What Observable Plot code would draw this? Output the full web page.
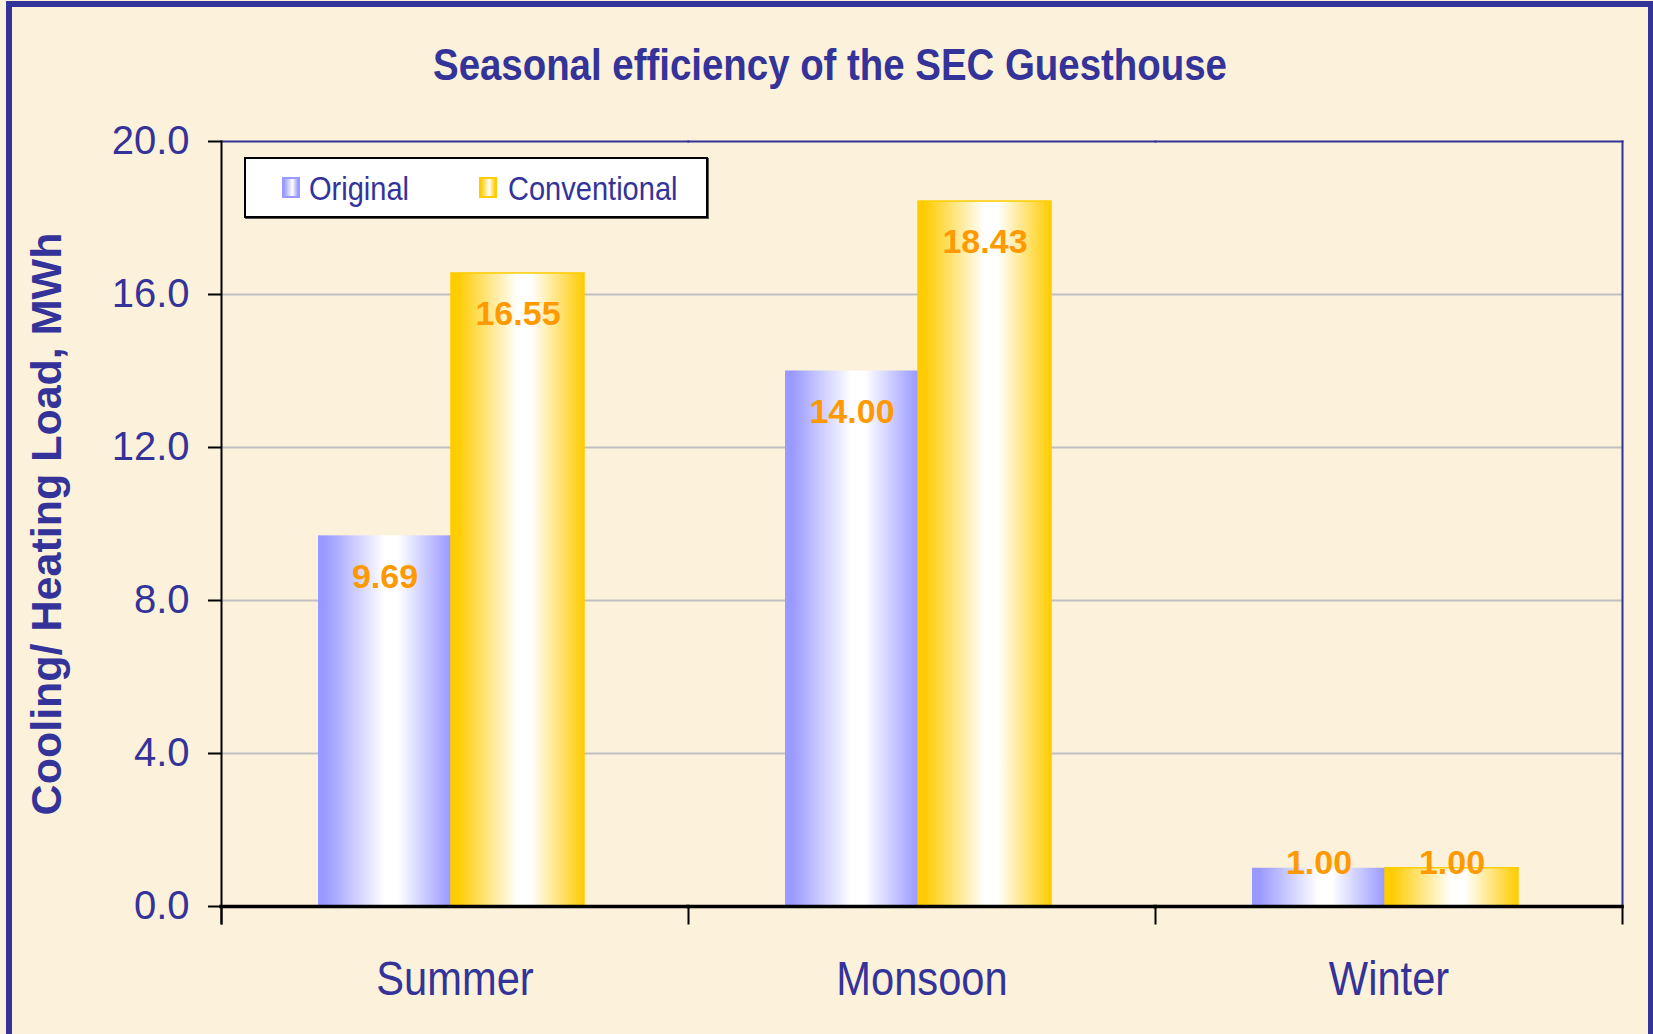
<!DOCTYPE html>
<html>
<head>
<meta charset="utf-8">
<script src="https://cdn.jsdelivr.net/npm/d3@7"></script>
<script src="https://cdn.jsdelivr.net/npm/@observablehq/plot@0.6"></script>
<style>
  html, body { margin: 0; padding: 0; background: #fcf1da; }
  #page { position: relative; width: 1653px; height: 1034px; overflow: hidden; background: #fcf1da;
          font-family: "Liberation Sans", Arial, sans-serif; }
  #frame { position: absolute; left: 6px; top: 1px; right: 0; height: 1100px; box-sizing: border-box;
           border-top: 6px solid #333399; border-left: 6px solid #333399; border-right: 5px solid #333399; }
  #title { position: absolute; left: 3px; top: 43px; width: 1653px; text-align: center; white-space: nowrap;
           font-size: 44.5px; line-height: 44.5px; font-weight: bold; color: #333399; }
  #title span { display: inline-block; transform: scaleX(0.863); }
  #chart { position: absolute; left: 0; top: 100px; }
  #legend { position: absolute; left: 244px; top: 157px; width: 464px; height: 61px; box-sizing: border-box;
            background: #fff; border: 2px solid #000; box-shadow: 1px 1px 0 #555; z-index: 5; }
  #legend .sw { position: absolute; top: 18px; width: 18px; height: 21px; box-sizing: border-box; }
  #legend .lt { position: absolute; top: 13px; font-size: 33px; line-height: 33px; color: #333399;
                white-space: nowrap; transform: scaleX(0.88); transform-origin: left center; }
</style>
</head>
<body>
<div id="page">
  <div id="frame"></div>
  <div id="title"><span></span></div>
  <div id="chart"></div>
  <div id="legend">
    <div class="sw" id="sw1" style="left:36px;border:2px solid #9999ff;background:linear-gradient(to right,#9999ff 0%,#ffffff 60%,#9999ff 100%);"></div>
    <div class="lt" id="lt1" style="left:63px;"></div>
    <div class="sw" id="sw2" style="left:233px;border:2px solid #ffcc00;background:linear-gradient(to right,#ffcc00 0%,#ffffff 60%,#ffcc00 100%);"></div>
    <div class="lt" id="lt2" style="left:262px;"></div>
  </div>
</div>
<script>
// ---- data ----
const titleText = "Seasonal efficiency of the SEC Guesthouse";
const yLabel = "Cooling/ Heating Load, MWh";
const seasons = ["Summer", "Monsoon", "Winter"];
const seriesNames = ["Original", "Conventional"];
const originalLoad = [9.69, 14.00, 1.00];
const conventionalLoad = [16.55, 18.43, 1.00];
const yTicks = [0, 4, 8, 12, 16, 20];
const gridTicks = [4, 8, 12, 16];

const data = seasons.flatMap((s, i) => [
  {season: s, series: seriesNames[0], value: originalLoad[i]},
  {season: s, series: seriesNames[1], value: conventionalLoad[i]}
]);

document.querySelector("#title span").textContent = titleText;
document.getElementById("lt1").textContent = seriesNames[0];
document.getElementById("lt2").textContent = seriesNames[1];

const blue = "#333399";
const fmt2 = d3.format(".2f");

const chart = Plot.plot({
  width: 1653,
  height: 934,
  marginLeft: 220,
  marginRight: 30,
  marginTop: 41,
  marginBottom: 128,
  style: {background: "transparent", fontFamily: "'Liberation Sans', Arial, sans-serif", overflow: "visible"},
  fx: {domain: seasons, padding: 0, label: null},
  x: {domain: seriesNames, paddingInner: 0, paddingOuter: 0.75, align: 0.483, axis: null},
  y: {domain: [0, 20]},
  marks: [
    Plot.ruleY(gridTicks, {stroke: "#c0c0c0", strokeWidth: 2}),
    Plot.barY(data, {filter: d => d.series === seriesNames[0], fx: "season", x: "series", y: "value",
      fill: "url(#gradOriginal)"}),
    Plot.barY(data, {filter: d => d.series === seriesNames[1], fx: "season", x: "series", y: "value",
      fill: "url(#gradConventional)", stroke: "#ffcc00", strokeWidth: 1.5}),
    Plot.frame({anchor: "top", stroke: blue, strokeWidth: 2, strokeLinecap: "square"}),
    Plot.frame({anchor: "right", facetAnchor: "right", stroke: blue, strokeWidth: 2}),
    Plot.frame({anchor: "left", facetAnchor: "left", stroke: "black", strokeWidth: 2, insetBottom: -17}),
    Plot.frame({anchor: "left", stroke: "black", strokeWidth: 2, insetTop: 765, insetBottom: -17}),
    Plot.frame({anchor: "right", facetAnchor: "right", stroke: "black", strokeWidth: 2, insetTop: 765, insetBottom: -17}),
    Plot.ruleY([0], {stroke: "black", strokeWidth: 3.5, strokeLinecap: "square"}),
    Plot.text(data, {filter: d => d.value >= 2, fx: "season", x: "series", y: "value",
      text: d => fmt2(d.value), dy: 41, fill: "#ff9900", fontWeight: "bold", fontSize: 34}),
    Plot.text(data, {filter: d => d.value < 2, fx: "season", x: "series", y: "value",
      text: d => fmt2(d.value), dy: -5, fill: "#ff9900", fontWeight: "bold", fontSize: 34}),
    Plot.axisY({ticks: yTicks, tickFormat: d3.format(".1f"), tickSize: 13, tickPadding: 19,
      fontSize: 40, color: blue, stroke: "black", strokeWidth: 2, label: null}),
    Plot.axisFx({anchor: "bottom", tickSize: 0, tickPadding: 54, fontSize: 49, color: blue, label: null}),
    Plot.text([yLabel], {text: d => d, frameAnchor: "left", facetAnchor: "left", rotate: -90, dx: -174,
      textAnchor: "middle", lineAnchor: "middle", fontSize: 43, fontWeight: "bold", fill: blue})
  ]
});

// gradients for the bars
const svg = d3.select(chart);
const defs = svg.insert("defs", ":first-child");
function addGradient(id, c) {
  const g = defs.append("linearGradient").attr("id", id)
    .attr("x1", "0").attr("x2", "1").attr("y1", "0").attr("y2", "0");
  [[0, c], [0.05, c], [0.5, "#ffffff"], [0.6, "#ffffff"], [1, c]].forEach(([o, col]) =>
    g.append("stop").attr("offset", o).attr("stop-color", col));
}
addGradient("gradOriginal", "#9999ff");
addGradient("gradConventional", "#ffcc00");

document.getElementById("chart").appendChild(chart);

// condensed category labels
svg.selectAll('g[aria-label="fx-axis tick label"] text').each(function () {
  const t = d3.select(this);
  const tr = t.attr("transform");
  if (tr) t.attr("transform", tr + " scale(0.85,1)");
  else {
    const x = +(t.attr("x") || 0);
    t.attr("transform", `translate(${x},0) scale(0.85,1) translate(${-x},0)`);
  }
});
</script>
</body>
</html>
